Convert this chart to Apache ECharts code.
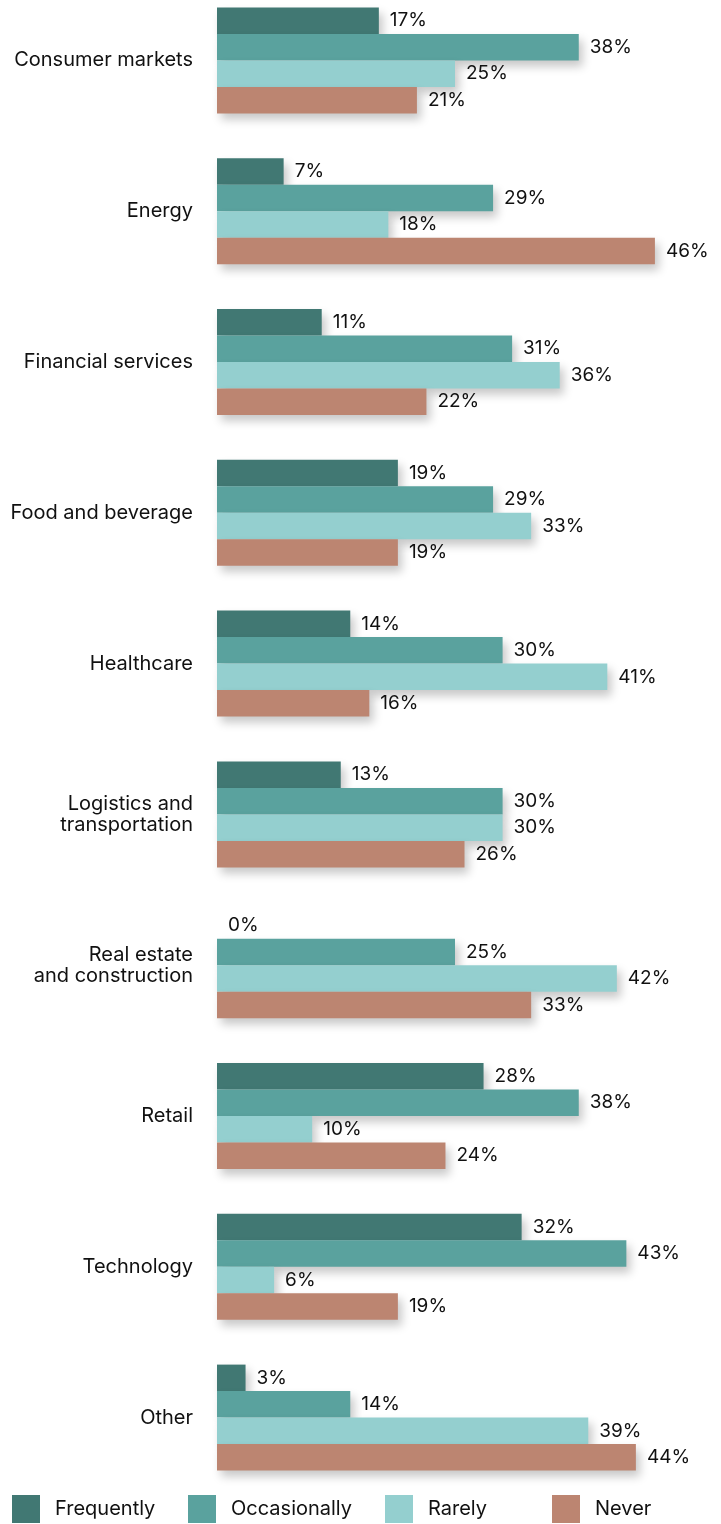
<!DOCTYPE html>
<html>
<head>
<meta charset="utf-8">
<title>Bars by sector</title>
<script src="https://cdn.jsdelivr.net/npm/echarts@6/dist/echarts.min.js"></script>
<style>
  html, body { margin: 0; padding: 0; background: #fff; }
  #chart { width: 721px; height: 1524px; }
</style>
</head>
<body>
<div id="chart"></div>
<script>
  var categories = ['Consumer markets', 'Energy', 'Financial services', 'Food and beverage', 'Healthcare',
    'Logistics and\ntransportation', 'Real estate\nand construction', 'Retail', 'Technology', 'Other'];
  var seriesNames = ['Frequently', 'Occasionally', 'Rarely', 'Never'];
  var frequently = [17, 7, 11, 19, 14, 13, 0, 28, 32, 3];
  var occasionally = [38, 29, 31, 29, 30, 30, 25, 38, 43, 14];
  var rarely = [25, 18, 36, 33, 41, 30, 42, 10, 6, 39];
  var never = [21, 46, 22, 19, 16, 26, 33, 24, 19, 44];
  var colors = ['#417873', '#5aa29e', '#94cfcf', '#bc8571'];
  var legendLeft = [12, 188, 385, 552];

  var font = 'Inter, Roboto, sans-serif';
  var chart = echarts.init(document.getElementById('chart'));

  function makeSeries(name, values, color) {
    return {
      name: name,
      type: 'bar',
      data: values,
      barWidth: 26.5,
      barGap: '0%',
      itemStyle: {
        color: color,
        shadowColor: 'rgba(0,0,0,0.22)',
        shadowBlur: 10,
        shadowOffsetX: 4,
        shadowOffsetY: 6
      },
      label: {
        show: true,
        position: 'right',
        distance: 11,
        formatter: '{c}%',
        color: '#111',
        fontFamily: font,
        fontSize: 19,
        padding: [3, 0, 0, 0]
      }
    };
  }

  var legends = seriesNames.map(function (n, i) {
    return {
      data: [n],
      left: legendLeft[i],
      top: 1495,
      padding: 0,
      icon: 'rect',
      itemWidth: 28,
      itemHeight: 28,
      itemStyle: { shadowBlur: 0, shadowColor: 'transparent' },
      textStyle: { fontFamily: font, fontSize: 20, color: '#111', padding: [8, 0, 0, 10] }
    };
  });

  chart.setOption({
    animation: false,
    grid: { left: 217, width: 476, top: -15, height: 1508, outerBoundsMode: 'none' },
    legend: legends,
    xAxis: {
      type: 'value',
      min: 0,
      max: 50,
      show: false
    },
    yAxis: {
      type: 'category',
      inverse: true,
      data: categories,
      axisLine: { show: false },
      axisTick: { show: false },
      splitLine: { show: false },
      axisLabel: {
        margin: 24,
        fontFamily: font,
        fontSize: 20,
        lineHeight: 21,
        color: '#111',
        align: 'right'
      }
    },
    series: [
      makeSeries(seriesNames[0], frequently, colors[0]),
      makeSeries(seriesNames[1], occasionally, colors[1]),
      makeSeries(seriesNames[2], rarely, colors[2]),
      makeSeries(seriesNames[3], never, colors[3])
    ]
  });
</script>
</body>
</html>
